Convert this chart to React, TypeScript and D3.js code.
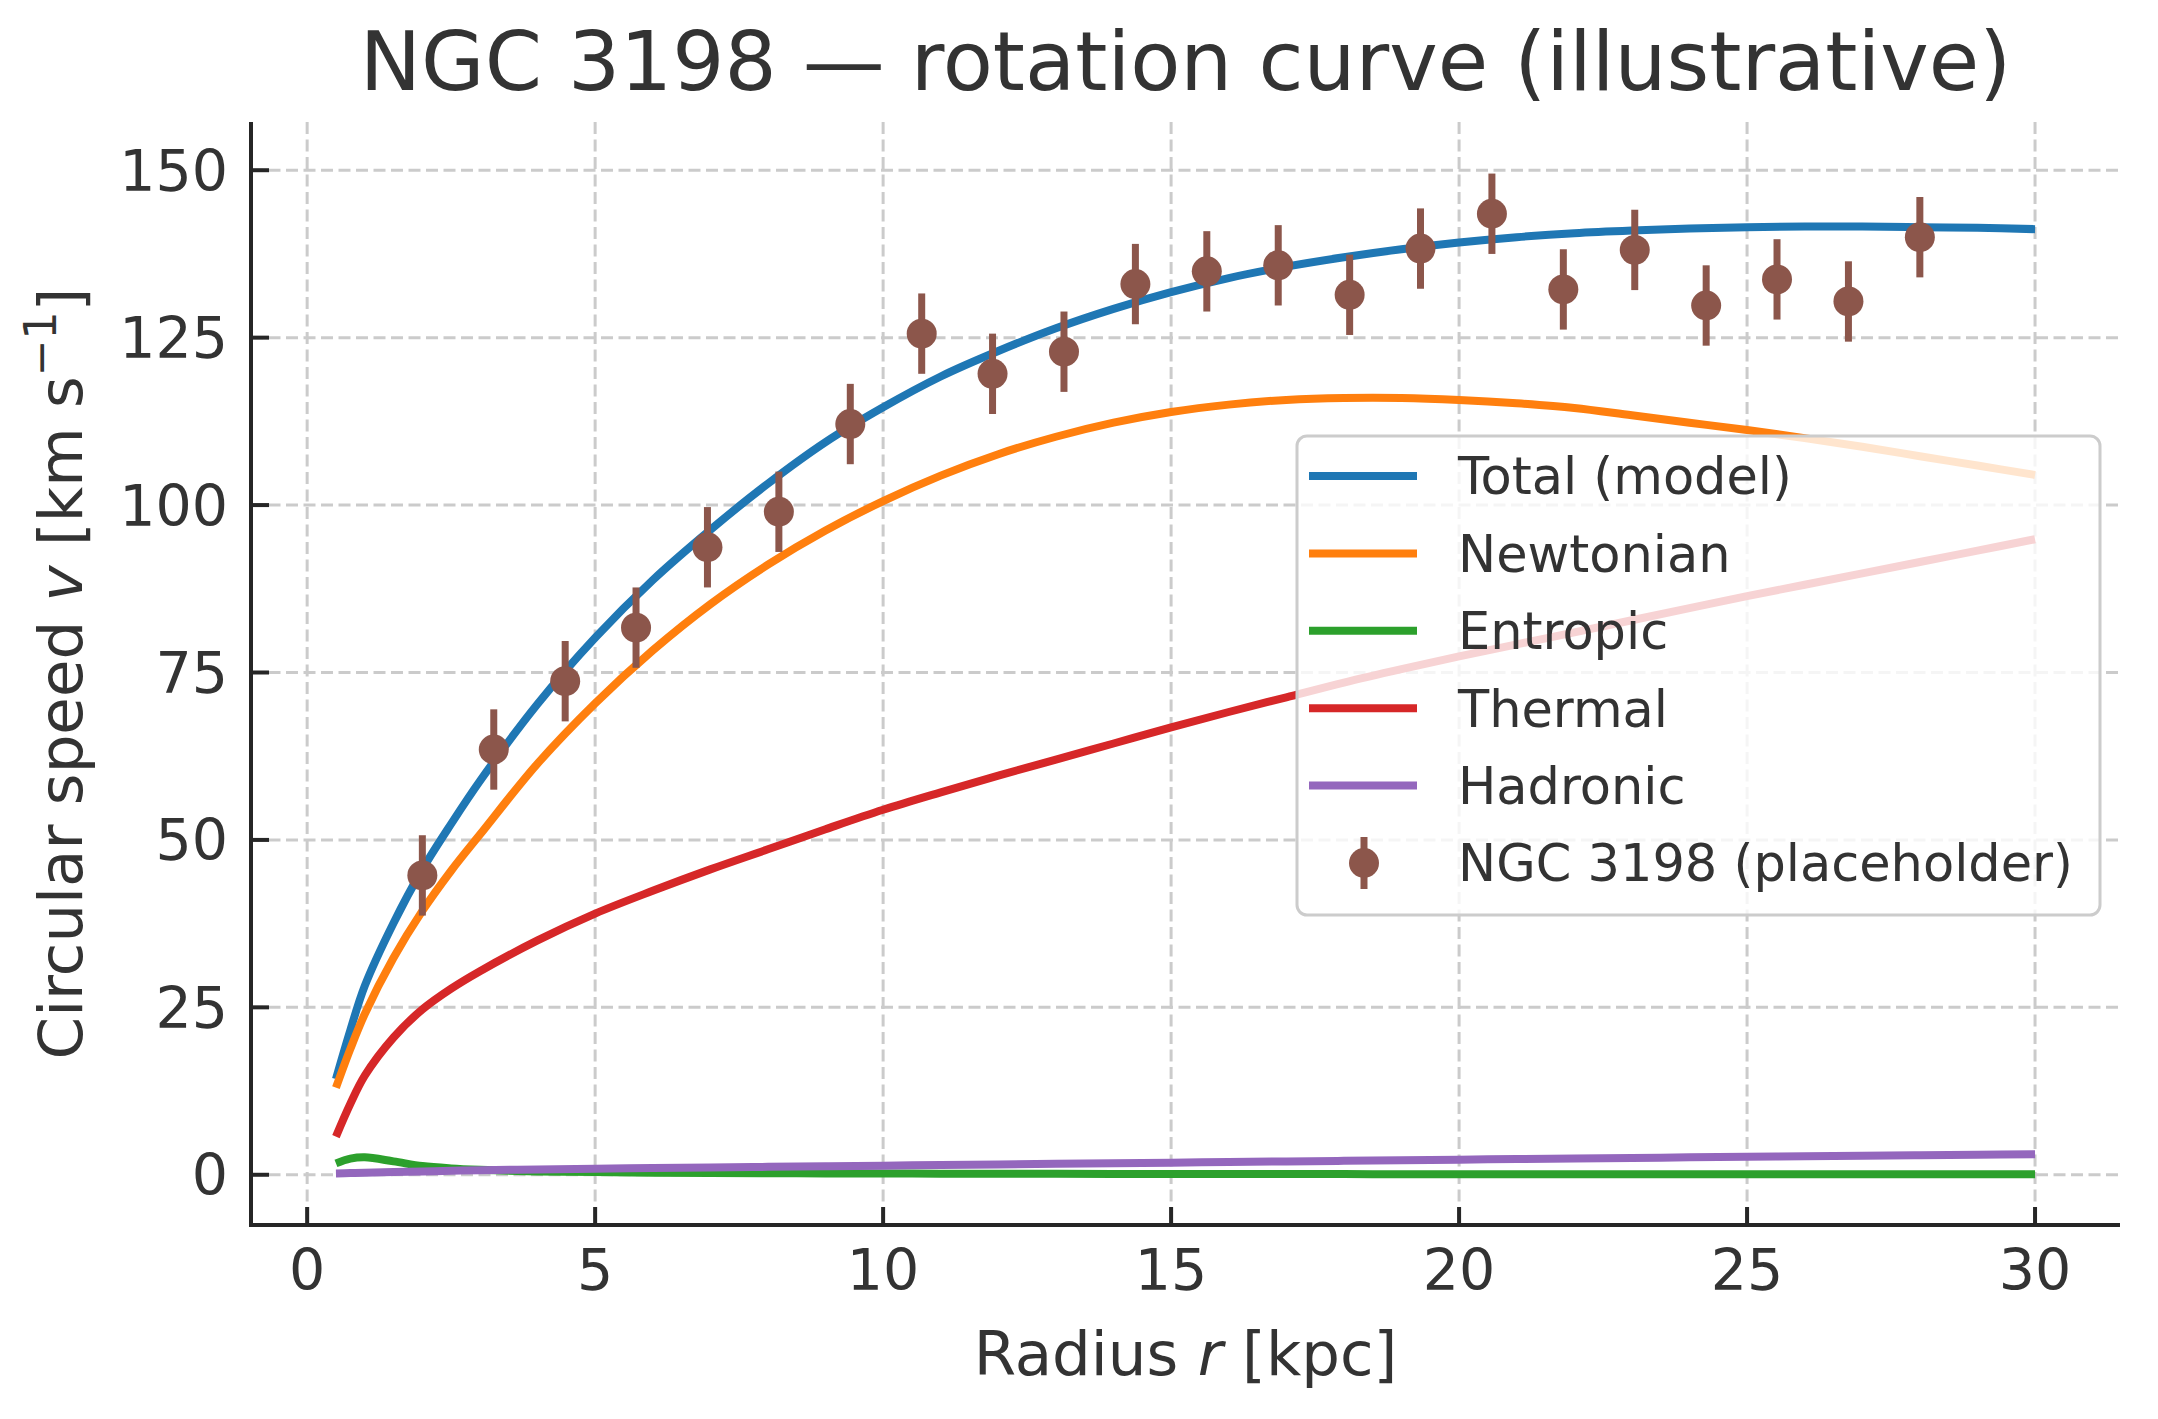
import React, { useRef, useEffect } from 'react';
import * as d3 from 'd3';

const radius = [0.5, 0.75, 1, 1.5, 2, 2.5, 3, 4, 5, 6, 7, 8, 9, 10, 11, 12, 13, 14, 15, 16, 17, 18, 19, 20, 21, 22, 23, 24, 25, 26, 27, 28, 29, 30];

const totalV = [14.3, 21.6, 28.2, 37.6, 45.6, 52.4, 58.8, 70.3, 80.2, 88.8, 96.3, 103.2, 109.4, 114.6, 119.2, 123.0, 126.4, 129.3, 131.8, 133.9, 135.6, 137.0, 138.2, 139.2, 140.0, 140.6, 141.0, 141.3, 141.5, 141.6, 141.6, 141.5, 141.4, 141.2];
const newtonV = [13.0, 18.8, 24.0, 32.4, 39.4, 45.4, 50.8, 61.4, 70.4, 78.3, 85.2, 91.1, 96.2, 100.6, 104.4, 107.6, 110.2, 112.3, 113.9, 115.0, 115.7, 116.0, 116.0, 115.7, 115.2, 114.5, 113.4, 112.3, 111.2, 110.0, 108.7, 107.3, 105.9, 104.5];
const entropicV = [1.7, 2.4, 2.6, 2.0, 1.3, 0.95, 0.75, 0.5, 0.4, 0.32, 0.27, 0.23, 0.2, 0.18, 0.17, 0.15, 0.14, 0.13, 0.12, 0.11, 0.1, 0.1, 0.09, 0.09, 0.08, 0.08, 0.08, 0.07, 0.07, 0.07, 0.06, 0.06, 0.06, 0.06];
const thermalV = [5.7, 10.6, 14.8, 20.5, 24.7, 27.8, 30.4, 35.0, 39.0, 42.4, 45.6, 48.6, 51.6, 54.5, 57.1, 59.6, 62.0, 64.4, 66.8, 69.1, 71.3, 73.5, 75.5, 77.4, 79.2, 81.0, 82.8, 84.6, 86.4, 88.1, 89.8, 91.5, 93.2, 94.9];
const hadronicV = [0.2, 0.25, 0.3, 0.4, 0.5, 0.6, 0.68, 0.8, 0.9, 1.0, 1.08, 1.18, 1.27, 1.36, 1.45, 1.54, 1.63, 1.72, 1.81, 1.9, 1.99, 2.08, 2.17, 2.26, 2.35, 2.44, 2.52, 2.6, 2.68, 2.76, 2.84, 2.92, 3.0, 3.08];

// observed (placeholder) points
const obsR = [2.0, 3.24, 4.48, 5.71, 6.95, 8.19, 9.43, 10.67, 11.9, 13.14, 14.38, 15.62, 16.86, 18.1, 19.33, 20.57, 21.81, 23.05, 24.29, 25.52, 26.76, 28.0];
const obsV = [44.7, 63.5, 73.7, 81.7, 93.7, 99.0, 112.1, 125.6, 119.6, 122.9, 133.0, 134.9, 135.8, 131.4, 138.3, 143.5, 132.2, 138.1, 129.8, 133.7, 130.4, 140.0];
const obsErr = [6, 6, 6, 6, 6, 6, 6, 6, 6, 6, 6, 6, 6, 6, 6, 6, 6, 6, 6, 6, 6, 6];

const xTicks = [0, 5, 10, 15, 20, 25, 30];
const yTicks = [0, 25, 50, 75, 100, 125, 150];

const seriesNames = ['Total (model)', 'Newtonian', 'Entropic', 'Thermal', 'Hadronic'];
const seriesValues = [totalV, newtonV, entropicV, thermalV, hadronicV];
const seriesColors = ['#1f77b4', '#ff7f0e', '#2ca02c', '#d62728', '#9467bd'];
const dataLabel = 'NGC 3198 (placeholder)';
const dataColor = '#8c564b';

const WIDTH = 2158;
const HEIGHT = 1419;
const FONT = '"DejaVu Sans", sans-serif';
const TEXT = '#333333';

const RotationCurve: React.FC = () => {
  const svgRef = useRef<SVGSVGElement>(null);

  useEffect(() => {
    if (!svgRef.current) return;
    const svg = d3.select(svgRef.current);
    svg.selectAll('*').remove();

    const plot = { left: 251, right: 2120, top: 122, bottom: 1225 };

    const xScale = d3.scaleLinear().domain([-0.975, 31.475]).range([plot.left, plot.right]);
    const yScale = d3.scaleLinear().domain([-7.5, 157.2]).range([plot.bottom, plot.top]);

    svg.append('rect').attr('width', WIDTH).attr('height', HEIGHT).attr('fill', '#ffffff');

    // Grid
    const grid = svg.append('g').attr('stroke', '#cbcbcb').attr('stroke-width', 3).attr('stroke-dasharray', '12,5.5');
    xTicks.forEach(t => {
      grid.append('line')
        .attr('x1', xScale(t)).attr('x2', xScale(t))
        .attr('y1', plot.top).attr('y2', plot.bottom);
    });
    yTicks.forEach(t => {
      grid.append('line')
        .attr('x1', plot.left).attr('x2', plot.right)
        .attr('y1', yScale(t)).attr('y2', yScale(t));
    });

    // Model curves
    const line = d3.line<number>()
      .x((_, i) => xScale(radius[i]))
      .y(d => yScale(d))
      .curve(d3.curveCatmullRom.alpha(0.5));

    seriesValues.forEach((vals, i) => {
      svg.append('path')
        .datum(vals)
        .attr('fill', 'none')
        .attr('stroke', seriesColors[i])
        .attr('stroke-width', 8)
        .attr('stroke-linejoin', 'round')
        .attr('d', line);
    });

    // Data with error bars
    const pts = svg.append('g').attr('fill', dataColor).attr('stroke', dataColor);
    obsR.forEach((r, i) => {
      pts.append('line')
        .attr('x1', xScale(r)).attr('x2', xScale(r))
        .attr('y1', yScale(obsV[i] - obsErr[i])).attr('y2', yScale(obsV[i] + obsErr[i]))
        .attr('stroke-width', 7);
      pts.append('circle')
        .attr('cx', xScale(r)).attr('cy', yScale(obsV[i]))
        .attr('r', 15).attr('stroke', 'none');
    });

    // Spines and ticks
    const axes = svg.append('g').attr('stroke', '#262626').attr('stroke-width', 4);
    axes.append('line').attr('x1', plot.left).attr('x2', plot.left).attr('y1', plot.top).attr('y2', plot.bottom + 2);
    axes.append('line').attr('x1', plot.left - 2).attr('x2', plot.right).attr('y1', plot.bottom).attr('y2', plot.bottom);
    xTicks.forEach(t => {
      axes.append('line').attr('x1', xScale(t)).attr('x2', xScale(t)).attr('y1', plot.bottom).attr('y2', plot.bottom - 18);
    });
    yTicks.forEach(t => {
      axes.append('line').attr('x1', plot.left).attr('x2', plot.left + 18).attr('y1', yScale(t)).attr('y2', yScale(t));
    });

    const labels = svg.append('g').attr('font-family', FONT).attr('fill', TEXT);
    xTicks.forEach(t => {
      labels.append('text')
        .attr('x', xScale(t)).attr('y', 1290)
        .attr('text-anchor', 'middle')
        .attr('font-size', 57)
        .text(t);
    });
    yTicks.forEach(t => {
      labels.append('text')
        .attr('x', 228).attr('y', yScale(t))
        .attr('dy', '0.36em')
        .attr('text-anchor', 'end')
        .attr('font-size', 57)
        .text(t);
    });

    // Axis titles
    const xl = labels.append('text')
      .attr('x', (plot.left + plot.right) / 2).attr('y', 1375)
      .attr('text-anchor', 'middle').attr('font-size', 61);
    xl.append('tspan').text('Radius ');
    xl.append('tspan').attr('font-style', 'italic').text('r');
    xl.append('tspan').text(' [kpc]');

    const yl = labels.append('text')
      .attr('transform', `translate(82,${(plot.top + plot.bottom) / 2}) rotate(-90)`)
      .attr('text-anchor', 'middle').attr('font-size', 61);
    yl.append('tspan').text('Circular speed ');
    yl.append('tspan').attr('font-style', 'italic').text('v');
    yl.append('tspan').text(' [km s');
    yl.append('tspan').attr('font-size', 44).attr('dy', -26).text('\u22121');
    yl.append('tspan').attr('dy', 26).text(']');

    // Title
    labels.append('text')
      .attr('x', (plot.left + plot.right) / 2).attr('y', 90)
      .attr('text-anchor', 'middle').attr('font-size', 82)
      .text('NGC 3198 \u2014 rotation curve (illustrative)');

    // Legend
    const lg = svg.append('g').attr('transform', 'translate(1297,436)');
    lg.append('rect')
      .attr('width', 803).attr('height', 479).attr('rx', 10)
      .attr('fill', '#ffffff').attr('fill-opacity', 0.8)
      .attr('stroke', '#cccccc').attr('stroke-width', 3);
    const rowY = (i: number) => 40 + i * 77.4;
    seriesNames.forEach((name, i) => {
      lg.append('line')
        .attr('x1', 12).attr('x2', 120)
        .attr('y1', rowY(i)).attr('y2', rowY(i))
        .attr('stroke', seriesColors[i]).attr('stroke-width', 8);
      lg.append('text')
        .attr('x', 161).attr('y', rowY(i)).attr('dy', '0.36em')
        .attr('font-family', FONT).attr('font-size', 51).attr('fill', TEXT)
        .text(name);
    });
    const dy = rowY(5);
    lg.append('line')
      .attr('x1', 67).attr('x2', 67).attr('y1', dy - 26).attr('y2', dy + 26)
      .attr('stroke', dataColor).attr('stroke-width', 7);
    lg.append('circle').attr('cx', 67).attr('cy', dy).attr('r', 15).attr('fill', dataColor);
    lg.append('text')
      .attr('x', 161).attr('y', dy).attr('dy', '0.36em')
      .attr('font-family', FONT).attr('font-size', 51).attr('fill', TEXT)
      .text(dataLabel);
  }, []);

  return <svg ref={svgRef} width={WIDTH} height={HEIGHT} style={{ display: 'block' }} />;
};

export default function App() {
  return (
    <div style={{ position: 'absolute', left: 0, top: 0 }}>
      <RotationCurve />
    </div>
  );
}
